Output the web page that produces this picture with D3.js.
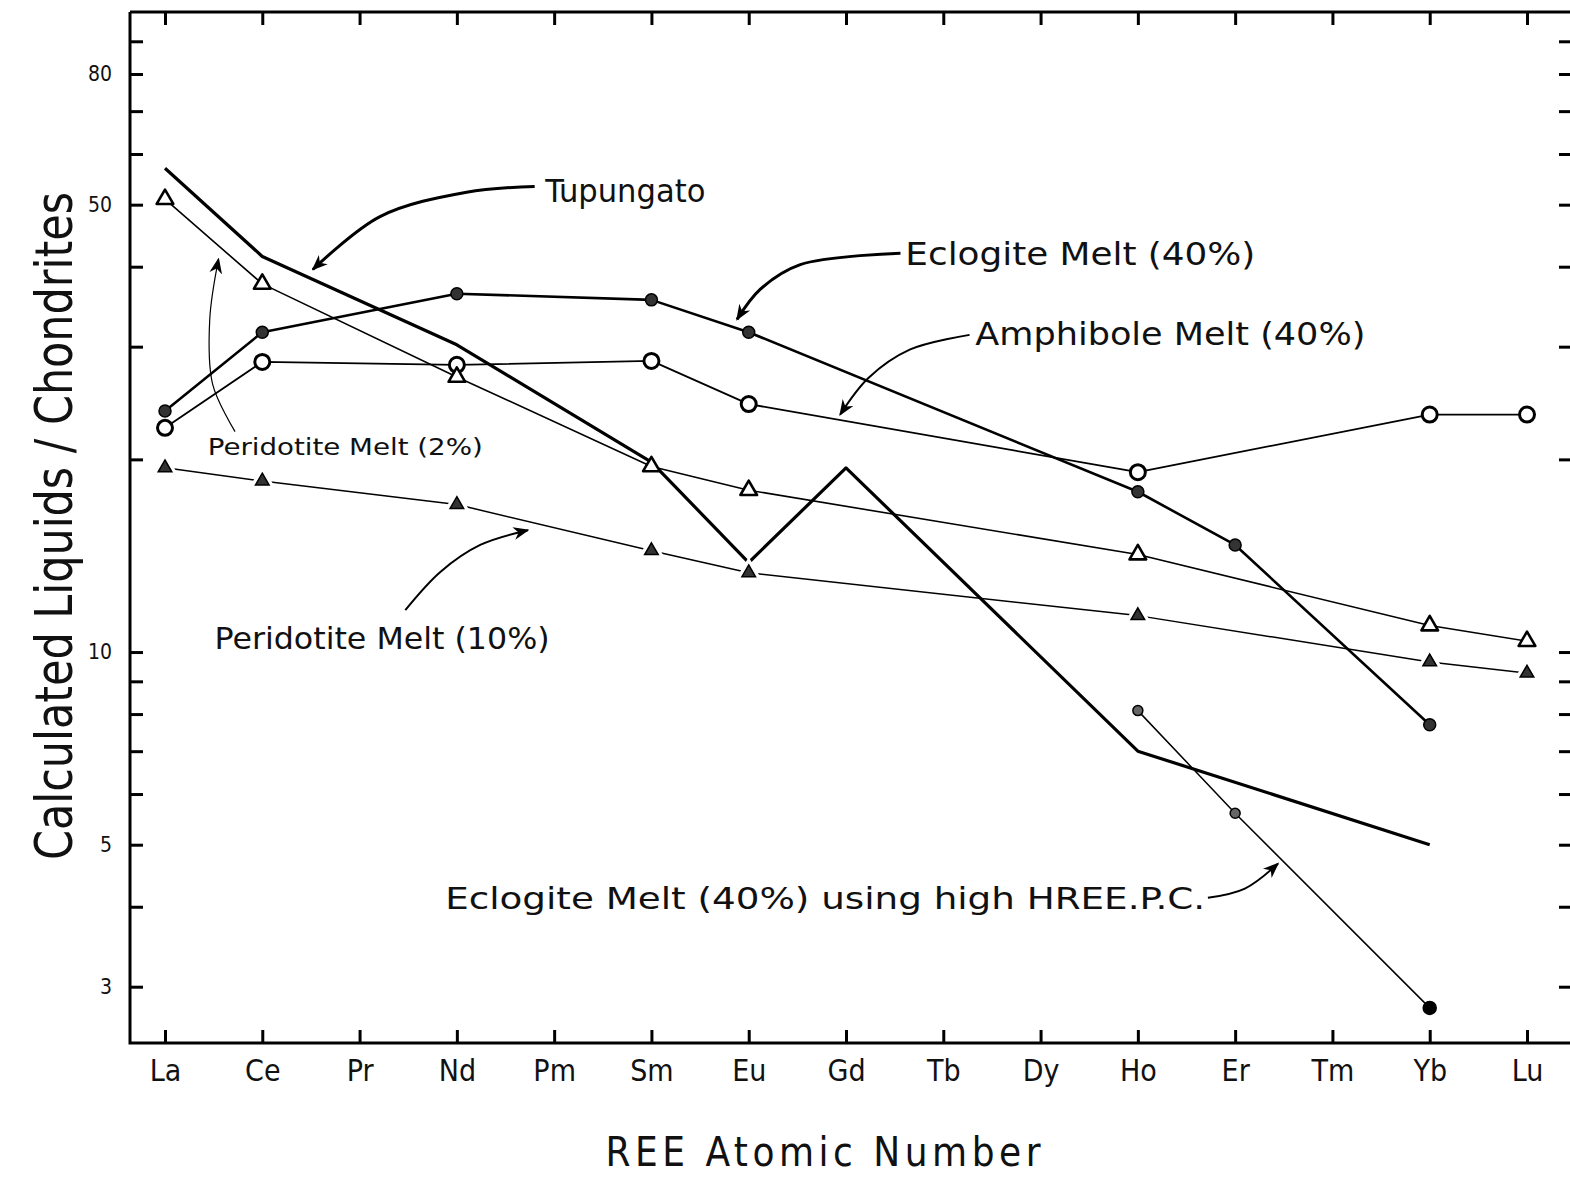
<!DOCTYPE html>
<html>
<head>
<meta charset="utf-8">
<script src="https://cdn.jsdelivr.net/npm/d3@7"></script>
<style>
  body { margin: 0; background: #fff; }
  svg { display: block; }
  text { font-family: "Liberation Sans Narrow", "DejaVu Sans Condensed", "DejaVu Sans", sans-serif; fill: #111; }
</style>
</head>
<body>
<div id="chart"></div>
<script>
// REE elements along the x axis
const elements = ["La", "Ce", "Pr", "Nd", "Pm", "Sm", "Eu", "Gd", "Tb", "Dy", "Ho", "Er", "Tm", "Yb", "Lu"];

// y ticks (log scale) and which of them carry a label
const yTicks = [3, 4, 5, 6, 7, 8, 9, 10, 20, 30, 40, 50, 60, 70, 80, 90];
const yTickLabels = [3, 5, 10, 50, 80];

// series (chondrite normalised)
const tupungatoEls = ["La", "Ce", "Nd", "Sm", "Eu", "Gd", "Ho", "Yb"];
const tupungatoVals = [57, 41.5, 30.2, 19.8, 13.8, 19.4, 7.0, 5.0];

const eclogiteEls = ["La", "Ce", "Nd", "Sm", "Eu", "Ho", "Er", "Yb"];
const eclogiteVals = [23.8, 31.6, 36.3, 35.5, 31.6, 17.8, 14.7, 7.7];

const amphiboleEls = ["La", "Ce", "Nd", "Sm", "Eu", "Ho", "Yb", "Lu"];
const amphiboleVals = [22.4, 28.4, 28.1, 28.5, 24.4, 19.1, 23.5, 23.5];

const perid2Els = ["La", "Ce", "Nd", "Sm", "Eu", "Ho", "Yb", "Lu"];
const perid2Vals = [51.0, 37.6, 26.9, 19.5, 17.9, 14.2, 11.0, 10.4];

const perid10Els = ["La", "Ce", "Nd", "Sm", "Eu", "Ho", "Yb", "Lu"];
const perid10Vals = [19.4, 18.5, 17.0, 14.4, 13.3, 11.4, 9.65, 9.27];

const hreeEls = ["Ho", "Er", "Yb"];
const hreeVals = [8.1, 5.6, 2.78];

const width = 1570;
const height = 1178;
const frame = { left: 130, right: 1572, top: 12, bottom: 1043 };

const svg = d3.select("#chart")
    .append("svg")
    .attr("width", width)
    .attr("height", height);

// scales: x by element index, y log
const x = d3.scaleLinear().domain([0, 14]).range([165, 1527]);
const y = d3.scaleLog().domain([2.45, 100]).range([frame.bottom, frame.top]);

const toPoints = (els, vals) => els.map((e, i) => ({ i: elements.indexOf(e), v: vals[i] }));

// --- frame (top, left, bottom; right edge is off the sheet) ---
svg.append("path")
    .attr("d", `M${frame.left},${frame.top}H${frame.right}M${frame.left},${frame.top}V${frame.bottom}H${frame.right}`)
    .attr("fill", "none")
    .attr("stroke", "#000")
    .attr("stroke-width", 3);

// --- axes, ticks pointing inward ---
const styleAxis = g => {
    g.select(".domain").remove();
    g.selectAll(".tick line").attr("stroke", "#000").attr("stroke-width", 3);
};

svg.append("g")
    .attr("transform", `translate(${frame.left},0)`)
    .call(d3.axisLeft(y).tickValues(yTicks).tickSize(-13).tickPadding(18)
        .tickFormat(d => yTickLabels.includes(d) ? d : ""))
    .call(styleAxis)
    .call(g => g.selectAll(".tick text").attr("font-size", 21).attr("font-family", "DejaVu Sans"));

svg.append("g")
    .attr("transform", `translate(${frame.right},0)`)
    .call(d3.axisRight(y).tickValues(yTicks).tickSize(-13).tickFormat(""))
    .call(styleAxis);

svg.append("g")
    .attr("transform", `translate(0,${frame.top})`)
    .call(d3.axisTop(x).tickValues(d3.range(15)).tickSize(-13).tickFormat(""))
    .call(styleAxis);

svg.append("g")
    .attr("transform", `translate(0,${frame.bottom})`)
    .call(d3.axisBottom(x).tickValues(d3.range(15)).tickSize(-13).tickPadding(17)
        .tickFormat(i => elements[i]))
    .call(styleAxis)
    .call(g => g.selectAll(".tick text").attr("font-size", 30));

// --- axis titles ---
svg.append("text")
    .attr("x", 823)
    .attr("y", 1166)
    .attr("text-anchor", "middle")
    .attr("font-size", 40)
    .attr("textLength", 435)
    .attr("lengthAdjust", "spacing")
    .text("REE Atomic Number");

svg.append("text")
    .attr("transform", "translate(72,526) rotate(-90)")
    .attr("text-anchor", "middle")
    .attr("font-size", 52)
    .attr("textLength", 668)
    .attr("lengthAdjust", "spacingAndGlyphs")
    .text("Calculated Liquids / Chondrites");

// --- series ---
const line = d3.line().x(d => x(d.i)).y(d => y(d.v));

const series = [
    { pts: toPoints(tupungatoEls, tupungatoVals), lw: 3.2, marker: null },
    { pts: toPoints(eclogiteEls, eclogiteVals), lw: 2.6, marker: "dot" },
    { pts: toPoints(amphiboleEls, amphiboleVals), lw: 1.8, marker: "ring" },
    { pts: toPoints(perid2Els, perid2Vals), lw: 1.6, marker: "openTri" },
    { pts: toPoints(perid10Els, perid10Vals), lw: 1.5, marker: "fillTri" },
    { pts: toPoints(hreeEls, hreeVals), lw: 1.5, marker: "smallDot" }
];

series.forEach(s => {
    svg.append("path")
        .datum(s.pts)
        .attr("d", line)
        .attr("fill", "none")
        .attr("stroke", "#000")
        .attr("stroke-width", s.lw)
        .attr("stroke-linejoin", "round");
});

series.forEach(s => {
    if (!s.marker) return;
    const g = svg.append("g");
    const m = g.selectAll("g").data(s.pts).enter().append("g")
        .attr("transform", d => `translate(${x(d.i)},${y(d.v)})`);

    if (s.marker === "dot") {
        m.append("circle").attr("r", 6).attr("fill", "#333").attr("stroke", "#000").attr("stroke-width", 1.5);
    } else if (s.marker === "ring") {
        m.append("circle").attr("r", 7.5).attr("fill", "#fff").attr("stroke", "#000").attr("stroke-width", 3);
    } else if (s.marker === "smallDot") {
        m.append("circle").attr("r", (d, i) => i === s.pts.length - 1 ? 6.5 : 5)
            .attr("fill", (d, i) => i === s.pts.length - 1 ? "#000" : "#666")
            .attr("stroke", "#000").attr("stroke-width", 1.5);
    } else if (s.marker === "openTri") {
        m.append("path").attr("d", d3.symbol(d3.symbolTriangle, 120))
            .attr("fill", "#fff").attr("stroke", "#000").attr("stroke-width", 2.6)
            .attr("stroke-linejoin", "round");
    } else if (s.marker === "fillTri") {
        m.append("path").attr("d", d3.symbol(d3.symbolTriangle, 80))
            .attr("fill", "#333").attr("stroke", "#fff").attr("stroke-width", 8)
            .attr("paint-order", "stroke");
        m.append("path").attr("d", d3.symbol(d3.symbolTriangle, 80))
            .attr("fill", "#333").attr("stroke", "#000").attr("stroke-width", 1.5);
    }
});

// --- hand-written annotations with arrows (positions in data units) ---
const labelTexts = [
    "Tupungato",
    "Eclogite Melt (40%)",
    "Amphibole Melt (40%)",
    "Peridotite Melt (2%)",
    "Peridotite Melt (10%)",
    "Eclogite Melt (40%) using high HREE.P.C."
];

const annotations = [
    { at: [3.91, 50.4], size: 32, len: 160,
      arrow: [[3.80, 53.4], [3.10, 52.3], [2.21, 47.9], [1.52, 39.6]], lw: 3 },
    { at: [7.61, 40.3], size: 32, len: 350,
      arrow: [[7.56, 42.0], [6.53, 40.3], [6.12, 36.9], [5.88, 33.1]], lw: 3 },
    { at: [8.33, 30.2], size: 32, len: 390,
      arrow: [[8.27, 31.3], [7.66, 29.7], [7.23, 26.8], [6.94, 23.5]], lw: 2 },
    { at: [0.44, 20.3], size: 23, len: 275,
      arrow: [[0.72, 22.1], [0.49, 26.2], [0.46, 33.1], [0.55, 41.1]], lw: 1.2 },
    { at: [0.51, 10.1], size: 30, len: 335,
      arrow: [[2.47, 11.63], [2.83, 13.34], [3.24, 14.7], [3.73, 15.5]], lw: 2 },
    { at: [2.88, 3.97], size: 31, len: 760,
      arrow: [[10.72, 4.13], [11.1, 4.27], [11.44, 4.67]], lw: 2 }
];

svg.append("defs").append("marker")
    .attr("id", "head")
    .attr("viewBox", "0 0 10 10")
    .attr("refX", 9)
    .attr("refY", 5)
    .attr("markerWidth", 16)
    .attr("markerHeight", 16)
    .attr("markerUnits", "userSpaceOnUse")
    .attr("orient", "auto")
    .append("path")
    .attr("d", "M0,1 L10,5 L0,9 L3,5 Z")
    .attr("fill", "#000");

const curve = d3.line().x(d => x(d[0])).y(d => y(d[1])).curve(d3.curveCatmullRom);

annotations.forEach((a, k) => {
    svg.append("path")
        .attr("d", curve(a.arrow))
        .attr("fill", "none")
        .attr("stroke", "#000")
        .attr("stroke-width", a.lw)
        .attr("marker-end", "url(#head)");

    svg.append("text")
        .attr("x", x(a.at[0]))
        .attr("y", y(a.at[1]))
        .attr("font-size", a.size)
        .attr("textLength", a.len)
        .attr("lengthAdjust", "spacingAndGlyphs")
        .text(labelTexts[k]);
});
</script>
</body>
</html>
